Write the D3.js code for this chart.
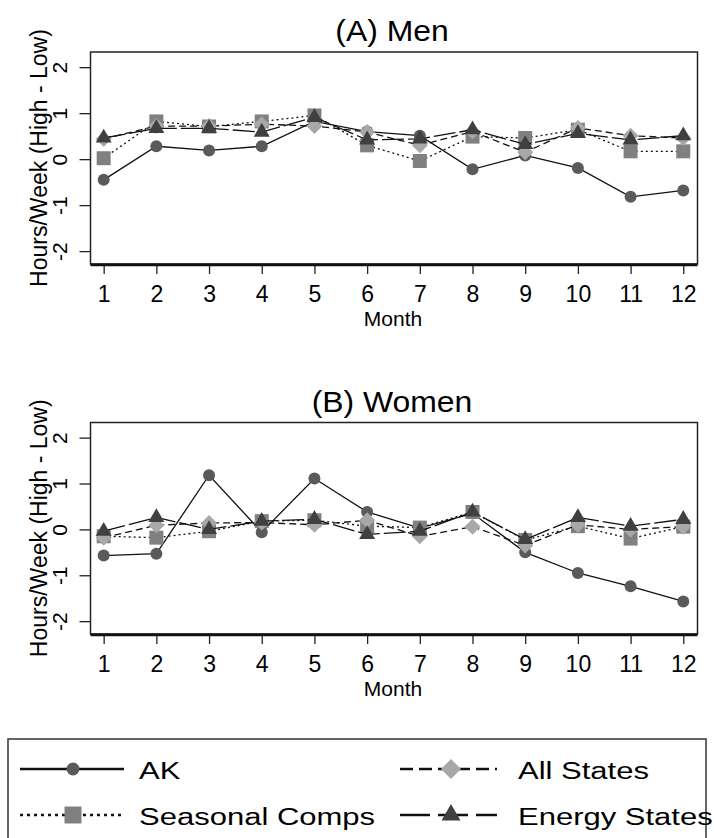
<!DOCTYPE html>
<html>
<head>
<meta charset="utf-8">
<script src="https://cdn.jsdelivr.net/npm/d3@7"></script>
<style>
  body { margin: 0; background: #fff; }
  svg { display: block; }
  text { font-family: "Liberation Sans", Arial, Helvetica, sans-serif; fill: #000; }
</style>
</head>
<body>
<svg id="chart" width="714" height="838"></svg>
<script>
// ---------------- data ----------------
const months = [1, 2, 3, 4, 5, 6, 7, 8, 9, 10, 11, 12];
const yTicks = [-2, -1, 0, 1, 2];
const seriesNames = ["AK", "Seasonal Comps", "All States", "Energy States"];

const menAK       = [-0.45, 0.28, 0.19, 0.28, 0.82, 0.60, 0.51, -0.22, 0.08, -0.19, -0.82, -0.68];
const menSeasonal = [0.02, 0.82, 0.71, 0.82, 0.95, 0.30, -0.04, 0.49, 0.46, 0.64, 0.17, 0.17];
const menAll      = [0.44, 0.72, 0.72, 0.76, 0.72, 0.59, 0.30, 0.60, 0.15, 0.68, 0.51, 0.46];
const menEnergy   = [0.46, 0.67, 0.67, 0.59, 0.91, 0.42, 0.44, 0.64, 0.32, 0.56, 0.42, 0.51];

const womenAK       = [-0.57, -0.53, 1.18, -0.06, 1.11, 0.38, 0.03, 0.35, -0.50, -0.95, -1.24, -1.57];
const womenSeasonal = [-0.15, -0.18, -0.04, 0.18, 0.20, 0.07, 0.04, 0.38, -0.23, 0.07, -0.20, 0.06];
const womenAll      = [-0.18, 0.09, 0.14, 0.15, 0.10, 0.20, -0.15, 0.06, -0.35, 0.10, 0.00, 0.06];
const womenEnergy   = [-0.04, 0.26, 0.00, 0.18, 0.22, -0.11, -0.04, 0.38, -0.22, 0.26, 0.07, 0.22];

const panelTitles = ["(A) Men", "(B) Women"];
const xLabel = "Month";
const yLabel = "Hours/Week (High - Low)";

// ---------------- styles ----------------
const markerFill = ["#5a5a5a", "#808080", "#a8a8a8", "#404040"];
const markerKind = ["circle", "square", "diamond", "triangle"];
const plotDash   = [null, "2,3", "7,4", "22,4"];
const legendDash = [null, "3,4", "13,6", "30,8"];

const svg = d3.select("#chart");

// layout
const boxLeft = 90.5, boxRight = 697.5;
const panels = [
  { top: 52, bottom: 264, series: [menAK, menSeasonal, menAll, menEnergy] },
  { top: 422.5, bottom: 634, series: [womenAK, womenSeasonal, womenAll, womenEnergy] }
];

const x = d3.scaleLinear().domain([0.75, 12.27]).range([boxLeft, boxRight]);

function markerPath(kind, s) {
  if (kind === "circle") return d3.symbol(d3.symbolCircle, Math.PI * s * s / 4)();
  if (kind === "square") return d3.symbol(d3.symbolSquare, s * s)();
  if (kind === "diamond") return d3.symbol(d3.symbolSquare, s * s / 2)();
  return d3.symbol(d3.symbolTriangle, s * s * 0.433)();
}
function markerTransform(kind) { return kind === "diamond" ? " rotate(45)" : ""; }
const plotSize = [12, 14, 16, 16];
const legendSize = [13, 17, 20, 19];

panels.forEach((p, pi) => {
  const y = d3.scaleLinear().domain([-2.28, 2.33]).range([p.bottom, p.top]);
  const g = svg.append("g");

  // title
  g.append("text")
    .attr("transform", `translate(${(boxLeft + boxRight) / 2 - 2},${p.top - 11}) scale(1.1,1)`)
    .attr("text-anchor", "middle")
    .style("font-size", "29px")
    .text(panelTitles[pi]);

  // y axis
  const ya = g.append("g").attr("transform", `translate(${boxLeft},0)`)
    .call(d3.axisLeft(y).tickValues(yTicks).tickSize(11).tickFormat(d => String(d)));
  ya.select(".domain").remove();
  ya.selectAll(".tick line").attr("stroke", "#222").attr("stroke-width", 1.3);
  ya.selectAll(".tick text")
    .attr("x", null).attr("dy", null)
    .attr("transform", "translate(-23.5,0) rotate(-90)")
    .attr("text-anchor", "middle")
    .style("font-size", "21px").style("font-family", null);

  // x axis
  const xa = g.append("g").attr("transform", `translate(0,${p.bottom})`)
    .call(d3.axisBottom(x).tickValues(months).tickSize(10).tickFormat(d => String(d)));
  xa.select(".domain").remove();
  xa.selectAll(".tick line").attr("stroke", "#222").attr("stroke-width", 1.3);
  xa.selectAll(".tick text")
    .attr("y", 37.5).attr("dy", null)
    .style("font-size", "23px").style("font-family", null);

  // x label
  g.append("text")
    .attr("x", (boxLeft + boxRight) / 2 - 1)
    .attr("y", p.bottom + 61.5)
    .attr("text-anchor", "middle")
    .style("font-size", "21px")
    .text(xLabel);

  // y label
  g.append("text")
    .attr("transform", `translate(47,${(p.top + p.bottom) / 2}) rotate(-90)`)
    .attr("text-anchor", "middle")
    .style("font-size", "23px")
    .text(yLabel);

  // series: lines + markers
  p.series.forEach((vals, si) => {
    const pts = months.map((m, i) => [m, vals[i]]);
    g.append("path")
      .datum(pts)
      .attr("fill", "none")
      .attr("stroke", "#111")
      .attr("stroke-width", 1.3)
      .attr("stroke-dasharray", plotDash[si])
      .attr("d", d3.line().x(d => x(d[0])).y(d => y(d[1])));
    g.selectAll(null).data(pts).enter().append("path")
      .attr("transform", d => `translate(${x(d[0])},${y(d[1])})` + markerTransform(markerKind[si]))
      .attr("d", markerPath(markerKind[si], plotSize[si]))
      .attr("fill", markerFill[si]);
  });

  // box
  g.append("rect")
    .attr("x", boxLeft).attr("y", p.top)
    .attr("width", boxRight - boxLeft).attr("height", p.bottom - p.top)
    .attr("fill", "none").attr("stroke", "#222").attr("stroke-width", 1.5);
  g.append("line")
    .attr("x1", boxLeft).attr("x2", boxRight)
    .attr("y1", p.bottom + 0.8).attr("y2", p.bottom + 0.8)
    .attr("stroke", "#111").attr("stroke-width", 2.8);
});

// ---------------- legend ----------------
const lg = svg.append("g");
lg.append("rect")
  .attr("x", 8).attr("y", 739).attr("width", 698).attr("height", 140)
  .attr("fill", "none").attr("stroke", "#333").attr("stroke-width", 1.5);

const legendPos = [
  { x0: 20, x1: 124, mx: 73, tx: 139, y: 769 },
  { x0: 20, x1: 124, mx: 73, tx: 139, y: 815 },
  { x0: 400, x1: 497, mx: 451, tx: 518, y: 769 },
  { x0: 400, x1: 497, mx: 451, tx: 518, y: 815 }
];
seriesNames.forEach((name, si) => {
  const lp = legendPos[si];
  lg.append("line")
    .attr("x1", lp.x0).attr("x2", lp.x1).attr("y1", lp.y).attr("y2", lp.y)
    .attr("stroke", "#111").attr("stroke-width", 2.4)
    .attr("stroke-dasharray", legendDash[si]);
  lg.append("path")
    .attr("transform", `translate(${lp.mx},${lp.y})` + markerTransform(markerKind[si]))
    .attr("d", markerPath(markerKind[si], legendSize[si]))
    .attr("fill", markerFill[si]);
  lg.append("text")
    .attr("transform", `translate(${lp.tx},${lp.y + 10}) scale(1.32,1)`)
    .style("font-size", "23.5px")
    .text(name);
});
</script>
</body>
</html>
